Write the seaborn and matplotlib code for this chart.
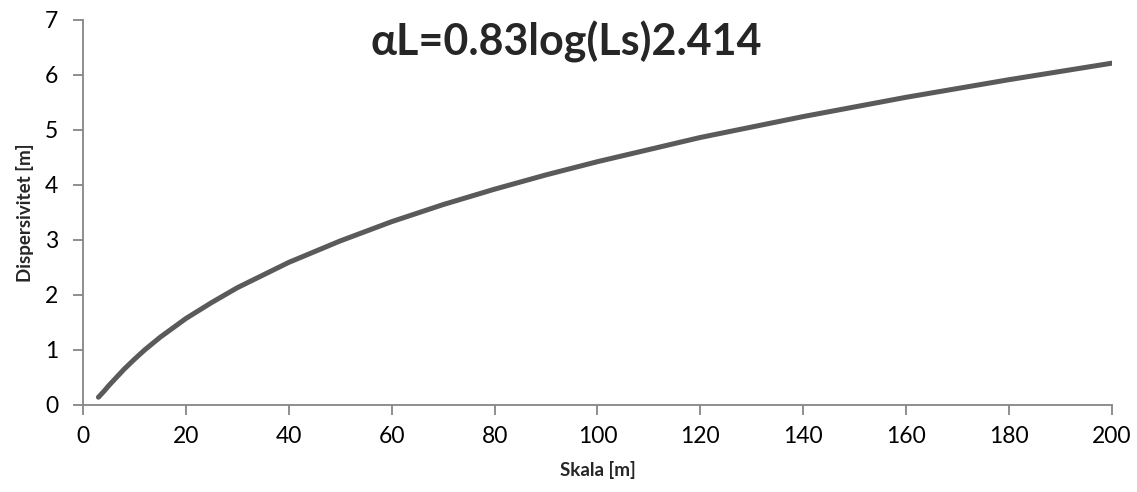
import matplotlib
matplotlib.use("Agg")
import matplotlib.pyplot as plt
import seaborn as sns
import pandas as pd

# values
skala = [3, 4, 5, 6, 8, 10, 12, 15, 20, 25, 30, 40, 50, 60, 70, 80, 90,
         100, 120, 140, 160, 180, 200]
dispersivitet = [0.14, 0.24, 0.35, 0.45, 0.65, 0.83, 1.00, 1.23, 1.57, 1.86,
                 2.13, 2.59, 2.98, 3.33, 3.64, 3.92, 4.18, 4.42, 4.86, 5.24,
                 5.59, 5.91, 6.21]
x_ticks = [0, 20, 40, 60, 80, 100, 120, 140, 160, 180, 200]
y_ticks = [0, 1, 2, 3, 4, 5, 6, 7]

df = pd.DataFrame({"Skala": skala, "Dispersivitet": dispersivitet})

sns.set_style("white")
plt.rcParams["font.family"] = ["Lato", "DejaVu Sans"]

fig = plt.figure(figsize=(11.37, 4.92), dpi=100)
ax = fig.add_axes([0.073, 0.177, 0.905, 0.783])

sns.lineplot(data=df, x="Skala", y="Dispersivitet", ax=ax,
             color="#5a5a5a", linewidth=3.6, solid_capstyle="round")

ax.set_xlim(0, 200)
ax.set_ylim(0, 7)
ax.set_xticks(x_ticks)
ax.set_yticks(y_ticks)
ax.tick_params(axis="both", bottom=True, left=True, labelsize=16.5,
               length=7, width=1.3, color="#868686", direction="out",
               labelcolor="black")
ax.tick_params(axis="x", pad=8)
ax.tick_params(axis="y", pad=11)
for side in ["top", "right"]:
    ax.spines[side].set_visible(False)
for side in ["left", "bottom"]:
    ax.spines[side].set_color("#868686")
    ax.spines[side].set_linewidth(1.3)

ax.set_xlabel("Skala [m]", fontsize=13.5, fontweight="bold", labelpad=10)
ax.set_ylabel("Dispersivitet [m]", fontsize=13.5, fontweight="bold",
              labelpad=8)

fig.text(0.498, 0.915, "αL=0.83log(Ls)2.414", fontsize=31, fontweight="bold",
         ha="center", va="center")

fig.savefig("out.png", dpi=100)
